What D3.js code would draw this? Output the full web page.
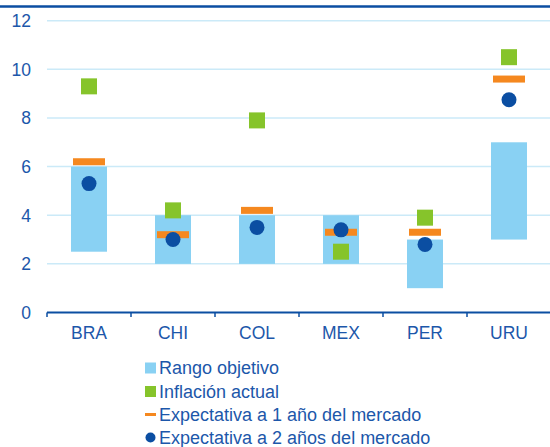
<!DOCTYPE html>
<html><head><meta charset="utf-8">
<script src="https://cdn.jsdelivr.net/npm/d3@7"></script>
<style>body{margin:0;background:#fff}svg{display:block;font-family:"Liberation Sans",Arial,sans-serif}</style>
</head><body><svg id="c" width="550" height="447"></svg>
<script>
const categories = ["BRA","CHI","COL","MEX","PER","URU"];
const rangeLow  = [2.5, 2, 2, 2, 1, 3];
const rangeHigh = [6, 4, 4, 4, 3, 7];
const inflation = [9.3, 4.2, 7.9, 2.5, 3.9, 10.5];
const exp1 = [6.2, 3.2, 4.2, 3.3, 3.3, 9.6];
const exp2 = [5.3, 3.0, 3.5, 3.4, 2.8, 8.75];
const yTicks = [0,2,4,6,8,10,12];
const legendLabels = ["Rango objetivo","Inflación actual","Expectativa a 1 año del mercado","Expectativa a 2 años del mercado"];

const cText = "#1C57AA", cDark = "#0B4EA2", cRange = "#89D1F3", cGreen = "#86C42B", cOrange = "#F5881F", cGrid = "#CBEAF8";
const svg = d3.select("#c");
const x = d3.scaleBand().domain(categories).range([47, 551]).padding(0);
const y = d3.scaleLinear().domain([0, 12]).range([312.5, 20.7]);
const bw = x.bandwidth();

svg.append("line").attr("x1",0).attr("x2",550).attr("y1",6.5).attr("y2",6.5).attr("stroke",cDark).attr("stroke-width",2.5);

svg.append("g").selectAll("line").data(yTicks.filter(d=>d>0)).join("line")
  .attr("x1",47).attr("x2",550).attr("y1",d=>y(d)).attr("y2",d=>y(d))
  .attr("stroke",cGrid).attr("stroke-width",1.5);

svg.append("g").selectAll("text").data(yTicks).join("text")
  .attr("x",31).attr("y",d=>y(d)).attr("dy","0.36em").attr("text-anchor","end")
  .attr("fill",cText).attr("font-size",17.5).text(d=>d);

svg.append("g").selectAll("rect").data(categories).join("rect")
  .attr("x",d=>x(d)+bw/2-18).attr("width",36)
  .attr("y",(d,i)=>y(rangeHigh[i])).attr("height",(d,i)=>y(rangeLow[i])-y(rangeHigh[i]))
  .attr("fill",cRange);

svg.append("g").selectAll("rect").data(categories).join("rect")
  .attr("x",d=>x(d)+bw/2-16).attr("width",32)
  .attr("y",(d,i)=>y(exp1[i])-3.5).attr("height",7).attr("fill",cOrange);

svg.append("g").selectAll("rect").data(categories).join("rect")
  .attr("x",d=>x(d)+bw/2-8).attr("width",16)
  .attr("y",(d,i)=>y(inflation[i])-8).attr("height",16).attr("fill",cGreen);

svg.append("g").selectAll("circle").data(categories).join("circle")
  .attr("cx",d=>x(d)+bw/2).attr("cy",(d,i)=>y(exp2[i])).attr("r",7.5).attr("fill",cDark);

const xAxis = svg.append("g");
xAxis.append("line").attr("x1",47).attr("x2",551).attr("y1",312.5).attr("y2",312.5).attr("stroke",cDark).attr("stroke-width",2);
const tickPos = categories.map(d=>x(d)).concat([551]);
xAxis.selectAll("line.t").data(tickPos).join("line").attr("class","t")
  .attr("x1",d=>d).attr("x2",d=>d).attr("y1",312.5).attr("y2",317).attr("stroke",cDark).attr("stroke-width",1.5);
xAxis.selectAll("text").data(categories).join("text")
  .attr("x",d=>x(d)+bw/2).attr("y",333).attr("dy","0.36em").attr("text-anchor","middle")
  .attr("fill",cText).attr("font-size",17.5).text(d=>d);

const rowsY = [368, 391.5, 414.5, 437.5];
const lg = svg.append("g");
lg.append("rect").attr("x",145).attr("y",rowsY[0]-5.5).attr("width",11).attr("height",11).attr("fill",cRange);
lg.append("rect").attr("x",145).attr("y",rowsY[1]-5.5).attr("width",11).attr("height",11).attr("fill",cGreen);
lg.append("rect").attr("x",145).attr("y",rowsY[2]-1.5).attr("width",11).attr("height",3).attr("fill",cOrange);
lg.append("circle").attr("cx",150.5).attr("cy",rowsY[3]).attr("r",5).attr("fill",cDark);
lg.selectAll("text").data(legendLabels).join("text")
  .attr("x",159).attr("y",(d,i)=>rowsY[i]).attr("dy","0.36em")
  .attr("fill",cText).attr("font-size",18).text(d=>d);
</script></body></html>
